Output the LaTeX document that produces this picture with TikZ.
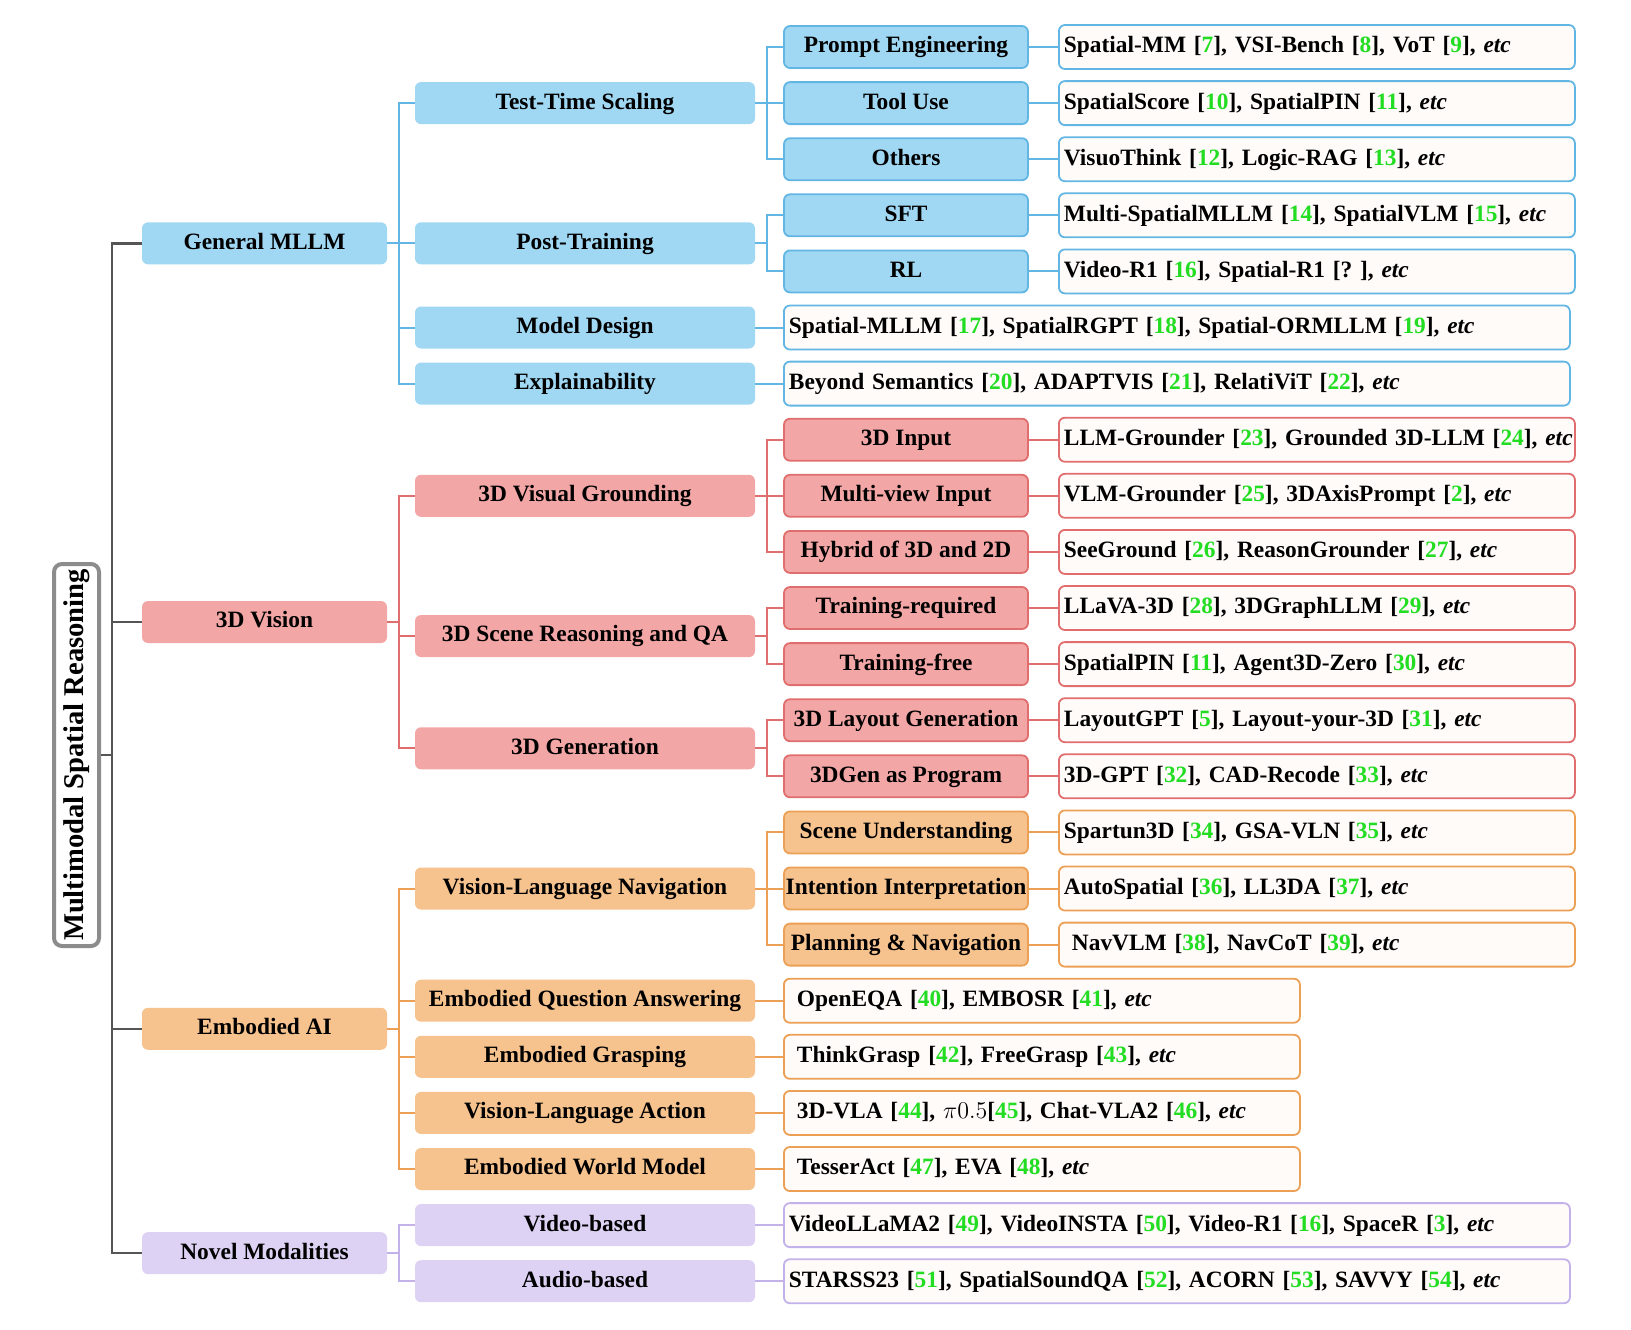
\documentclass[tikz,border=0pt]{standalone}
\usepackage{fontspec}
\setmainfont{Liberation Serif}
\definecolor{bluF}{HTML}{A0D7F3}
\definecolor{bluL}{HTML}{62B6E3}
\definecolor{redF}{HTML}{F3A6A6}
\definecolor{redL}{HTML}{E06E6E}
\definecolor{oraF}{HTML}{F6C28E}
\definecolor{oraL}{HTML}{ECA055}
\definecolor{purF}{HTML}{DDD2F4}
\definecolor{purL}{HTML}{C3B1E9}
\definecolor{leafF}{HTML}{FEFBF9}
\definecolor{refgreen}{HTML}{22DD22}
\definecolor{trunkC}{HTML}{555555}
\definecolor{rootC}{HTML}{8C8C8C}
\newcommand{\rf}[1]{[\textcolor{refgreen}{#1}]}
\newcommand{\etc}{\textit{etc}}
\begin{document}
\begin{tikzpicture}[x=0.5pt,y=-0.5pt,font=\fontsize{11.7}{14}\selectfont\bfseries,
  box/.style={rounded corners=3pt,text height=8.3pt,text depth=2.4pt,inner sep=0pt,align=center},
  lvA/.style={box,fill=#1F,minimum width=122.5pt,minimum height=21pt},
  lvB/.style={box,fill=#1F,minimum width=170pt,minimum height=21pt},
  lvC/.style={box,fill=#1F,draw=#1L,line width=0.9pt,minimum width=122pt,minimum height=21pt},
  leaf/.style={box,anchor=west,fill=leafF,draw=#1L,line width=0.9pt,minimum height=22pt,inner xsep=2.5pt,align=left},
  leafL/.style={leaf=#1,text width=253pt},
  leafM/.style={leaf=#1,text width=388pt},
  ln/.style={draw=#1L,line width=1pt},
  trunk/.style={draw=trunkC,line width=1.2pt}]
\useasboundingbox (0,0) rectangle (1631,1329);
% root
\node[draw=rootC,line width=2pt,rounded corners=4pt,fill=white,rotate=90,minimum width=191pt,minimum height=22.5pt,inner sep=0pt,
  font=\fontsize{14.3}{16}\selectfont\bfseries] (root) at (76.5,755) {Multimodal Spatial Reasoning};
\coordinate (tk) at (112,755);

% General MLLM
\node[lvA=blu] (gm) at (264.5,243.35) {General MLLM};
\node[lvB=blu] (tts) at (585,103.1) {Test-Time Scaling};
\node[lvB=blu] (pt) at (585,243.35) {Post-Training};
\node[lvB=blu] (md) at (585,327.5) {Model Design};
\node[lvB=blu] (ex) at (585,383.6) {Explainability};
\node[lvC=blu] (pe) at (906,47) {Prompt Engineering};
\node[lvC=blu] (tu) at (906,103.1) {Tool Use};
\node[lvC=blu] (oth) at (906,159.2) {Others};
\node[lvC=blu] (sft) at (906,215.3) {SFT};
\node[lvC=blu] (rl) at (906,271.4) {RL};
\node[leafL=blu] (pe-l) at (1058,47) {\mbox{Spatial-MM \rf{7}, VSI-Bench \rf{8}, VoT \rf{9}, \etc}};
\node[leafL=blu] (tu-l) at (1058,103.1) {\mbox{SpatialScore \rf{10}, SpatialPIN \rf{11}, \etc}};
\node[leafL=blu] (oth-l) at (1058,159.2) {\mbox{VisuoThink \rf{12}, Logic-RAG \rf{13}, \etc}};
\node[leafL=blu] (sft-l) at (1058,215.3) {\mbox{Multi-SpatialMLLM \rf{14}, SpatialVLM \rf{15}, \etc}};
\node[leafL=blu] (rl-l) at (1058,271.4) {\mbox{Video-R1 \rf{16}, Spatial-R1 [?\ ], \etc}};
\node[leafM=blu] (md-l) at (783,327.5) {\mbox{Spatial-MLLM \rf{17}, SpatialRGPT \rf{18}, Spatial-ORMLLM \rf{19}, \etc}};
\node[leafM=blu] (ex-l) at (783,383.6) {\mbox{Beyond Semantics \rf{20}, ADAPTVIS \rf{21}, RelatiViT \rf{22}, \etc}};

% 3D Vision
\node[lvA=red] (tdv) at (264.5,622) {3D Vision};
\node[lvB=red] (vg) at (585,495.8) {3D Visual Grounding};
\node[lvB=red] (sr) at (585,636.05) {3D Scene Reasoning and QA};
\node[lvB=red] (gen) at (585,748.25) {3D Generation};
\node[lvC=red] (in3) at (906,439.7) {3D Input};
\node[lvC=red] (mv) at (906,495.8) {Multi-view Input};
\node[lvC=red] (hyb) at (906,551.9) {Hybrid of 3D and 2D};
\node[lvC=red] (treq) at (906,608) {Training-required};
\node[lvC=red] (tfree) at (906,664.1) {Training-free};
\node[lvC=red] (lay) at (906,720.2) {3D Layout Generation};
\node[lvC=red] (prog) at (906,776.3) {3DGen as Program};
\node[leafL=red] (in3-l) at (1058,439.7) {\mbox{LLM-Grounder \rf{23}, Grounded 3D-LLM \rf{24}, \etc}};
\node[leafL=red] (mv-l) at (1058,495.8) {\mbox{VLM-Grounder \rf{25}, 3DAxisPrompt \rf{2}, \etc}};
\node[leafL=red] (hyb-l) at (1058,551.9) {\mbox{SeeGround \rf{26}, ReasonGrounder \rf{27}, \etc}};
\node[leafL=red] (treq-l) at (1058,608) {\mbox{LLaVA-3D \rf{28}, 3DGraphLLM \rf{29}, \etc}};
\node[leafL=red] (tfree-l) at (1058,664.1) {\mbox{SpatialPIN \rf{11}, Agent3D-Zero \rf{30}, \etc}};
\node[leafL=red] (lay-l) at (1058,720.2) {\mbox{LayoutGPT \rf{5}, Layout-your-3D \rf{31}, \etc}};
\node[leafL=red] (prog-l) at (1058,776.3) {\mbox{3D-GPT \rf{32}, CAD-Recode \rf{33}, \etc}};

% Embodied AI
\node[lvA=ora] (eai) at (264.5,1028.75) {Embodied AI};
\node[lvB=ora] (vln) at (585,888.5) {Vision-Language Navigation};
\node[lvB=ora] (eqa) at (585,1000.7) {Embodied Question Answering};
\node[lvB=ora] (grasp) at (585,1056.8) {Embodied Grasping};
\node[lvB=ora] (vla) at (585,1112.9) {Vision-Language Action};
\node[lvB=ora] (ewm) at (585,1169) {Embodied World Model};
\node[lvC=ora] (su) at (906,832.4) {Scene Understanding};
\node[lvC=ora] (ii) at (906,888.5) {Intention Interpretation};
\node[lvC=ora] (pn) at (906,944.6) {Planning \& Navigation};
\node[leafL=ora] (su-l) at (1058,832.4) {\mbox{Spartun3D \rf{34}, GSA-VLN \rf{35}, \etc}};
\node[leafL=ora] (ii-l) at (1058,888.5) {\mbox{AutoSpatial \rf{36}, LL3DA \rf{37}, \etc}};
\node[leafL=ora] (pn-l) at (1058,944.6) {\mbox{\hspace{4pt}NavVLM \rf{38}, NavCoT \rf{39}, \etc}};
\node[leafL=ora] (eqa-l) at (783,1000.7) {\mbox{\hspace{4pt}OpenEQA \rf{40}, EMBOSR \rf{41}, \etc}};
\node[leafL=ora] (grasp-l) at (783,1056.8) {\mbox{\hspace{4pt}ThinkGrasp \rf{42}, FreeGrasp \rf{43}, \etc}};
\node[leafL=ora] (vla-l) at (783,1112.9) {\mbox{\hspace{4pt}3D-VLA \rf{44}, {\mdseries$\pi0.5$}[\textcolor{refgreen}{45}], Chat-VLA2 \rf{46}, \etc}};
\node[leafL=ora] (ewm-l) at (783,1169) {\mbox{\hspace{4pt}TesserAct \rf{47}, EVA \rf{48}, \etc}};

% Novel Modalities
\node[lvA=pur] (nm) at (264.5,1253.15) {Novel Modalities};
\node[lvB=pur] (vid) at (585,1225.1) {Video-based};
\node[lvB=pur] (aud) at (585,1281.2) {Audio-based};
\node[leafM=pur] (vid-l) at (783,1225.1) {\mbox{VideoLLaMA2 \rf{49}, VideoINSTA \rf{50}, Video-R1 \rf{16}, SpaceR \rf{3}, \etc}};
\node[leafM=pur] (aud-l) at (783,1281.2) {\mbox{STARSS23 \rf{51}, SpatialSoundQA \rf{52}, ACORN \rf{53}, SAVVY \rf{54}, \etc}};

% trunk
\draw[trunk] (root.south) -- (tk);
\draw[trunk] (tk) |- (gm.west);
\draw[trunk] (tk) |- (tdv.west);
\draw[trunk] (tk) |- (eai.west);
\draw[trunk] (tk) |- (nm.west);

% blue connectors
\draw[ln=blu] (gm.east) -- ++(12,0) coordinate (gmb);
\draw[ln=blu] (gmb) |- (tts.west);
\draw[ln=blu] (gmb) |- (pt.west);
\draw[ln=blu] (gmb) |- (md.west);
\draw[ln=blu] (gmb) |- (ex.west);
\draw[ln=blu] (tts.east) -- ++(11.5,0) coordinate (ttsb);
\draw[ln=blu] (ttsb) |- (pe.west);
\draw[ln=blu] (ttsb) |- (tu.west);
\draw[ln=blu] (ttsb) |- (oth.west);
\draw[ln=blu] (pt.east) -- ++(11.5,0) coordinate (ptb);
\draw[ln=blu] (ptb) |- (sft.west);
\draw[ln=blu] (ptb) |- (rl.west);
\draw[ln=blu] (pe.east) -- (pe-l.west);
\draw[ln=blu] (tu.east) -- (tu-l.west);
\draw[ln=blu] (oth.east) -- (oth-l.west);
\draw[ln=blu] (sft.east) -- (sft-l.west);
\draw[ln=blu] (rl.east) -- (rl-l.west);
\draw[ln=blu] (md.east) -- (md-l.west);
\draw[ln=blu] (ex.east) -- (ex-l.west);

% red connectors
\draw[ln=red] (tdv.east) -- ++(12,0) coordinate (tdvb);
\draw[ln=red] (tdvb) |- (vg.west);
\draw[ln=red] (tdvb) |- (sr.west);
\draw[ln=red] (tdvb) |- (gen.west);
\draw[ln=red] (vg.east) -- ++(11.5,0) coordinate (vgb);
\draw[ln=red] (vgb) |- (in3.west);
\draw[ln=red] (vgb) |- (mv.west);
\draw[ln=red] (vgb) |- (hyb.west);
\draw[ln=red] (sr.east) -- ++(11.5,0) coordinate (srb);
\draw[ln=red] (srb) |- (treq.west);
\draw[ln=red] (srb) |- (tfree.west);
\draw[ln=red] (gen.east) -- ++(11.5,0) coordinate (genb);
\draw[ln=red] (genb) |- (lay.west);
\draw[ln=red] (genb) |- (prog.west);
\draw[ln=red] (in3.east) -- (in3-l.west);
\draw[ln=red] (mv.east) -- (mv-l.west);
\draw[ln=red] (hyb.east) -- (hyb-l.west);
\draw[ln=red] (treq.east) -- (treq-l.west);
\draw[ln=red] (tfree.east) -- (tfree-l.west);
\draw[ln=red] (lay.east) -- (lay-l.west);
\draw[ln=red] (prog.east) -- (prog-l.west);

% orange connectors
\draw[ln=ora] (eai.east) -- ++(12,0) coordinate (eaib);
\draw[ln=ora] (eaib) |- (vln.west);
\draw[ln=ora] (eaib) |- (eqa.west);
\draw[ln=ora] (eaib) |- (grasp.west);
\draw[ln=ora] (eaib) |- (vla.west);
\draw[ln=ora] (eaib) |- (ewm.west);
\draw[ln=ora] (vln.east) -- ++(11.5,0) coordinate (vlnb);
\draw[ln=ora] (vlnb) |- (su.west);
\draw[ln=ora] (vlnb) |- (ii.west);
\draw[ln=ora] (vlnb) |- (pn.west);
\draw[ln=ora] (su.east) -- (su-l.west);
\draw[ln=ora] (ii.east) -- (ii-l.west);
\draw[ln=ora] (pn.east) -- (pn-l.west);
\draw[ln=ora] (eqa.east) -- (eqa-l.west);
\draw[ln=ora] (grasp.east) -- (grasp-l.west);
\draw[ln=ora] (vla.east) -- (vla-l.west);
\draw[ln=ora] (ewm.east) -- (ewm-l.west);

% purple connectors
\draw[ln=pur] (nm.east) -- ++(12,0) coordinate (nmb);
\draw[ln=pur] (nmb) |- (vid.west);
\draw[ln=pur] (nmb) |- (aud.west);
\draw[ln=pur] (vid.east) -- (vid-l.west);
\draw[ln=pur] (aud.east) -- (aud-l.west);
\end{tikzpicture}
\end{document}
